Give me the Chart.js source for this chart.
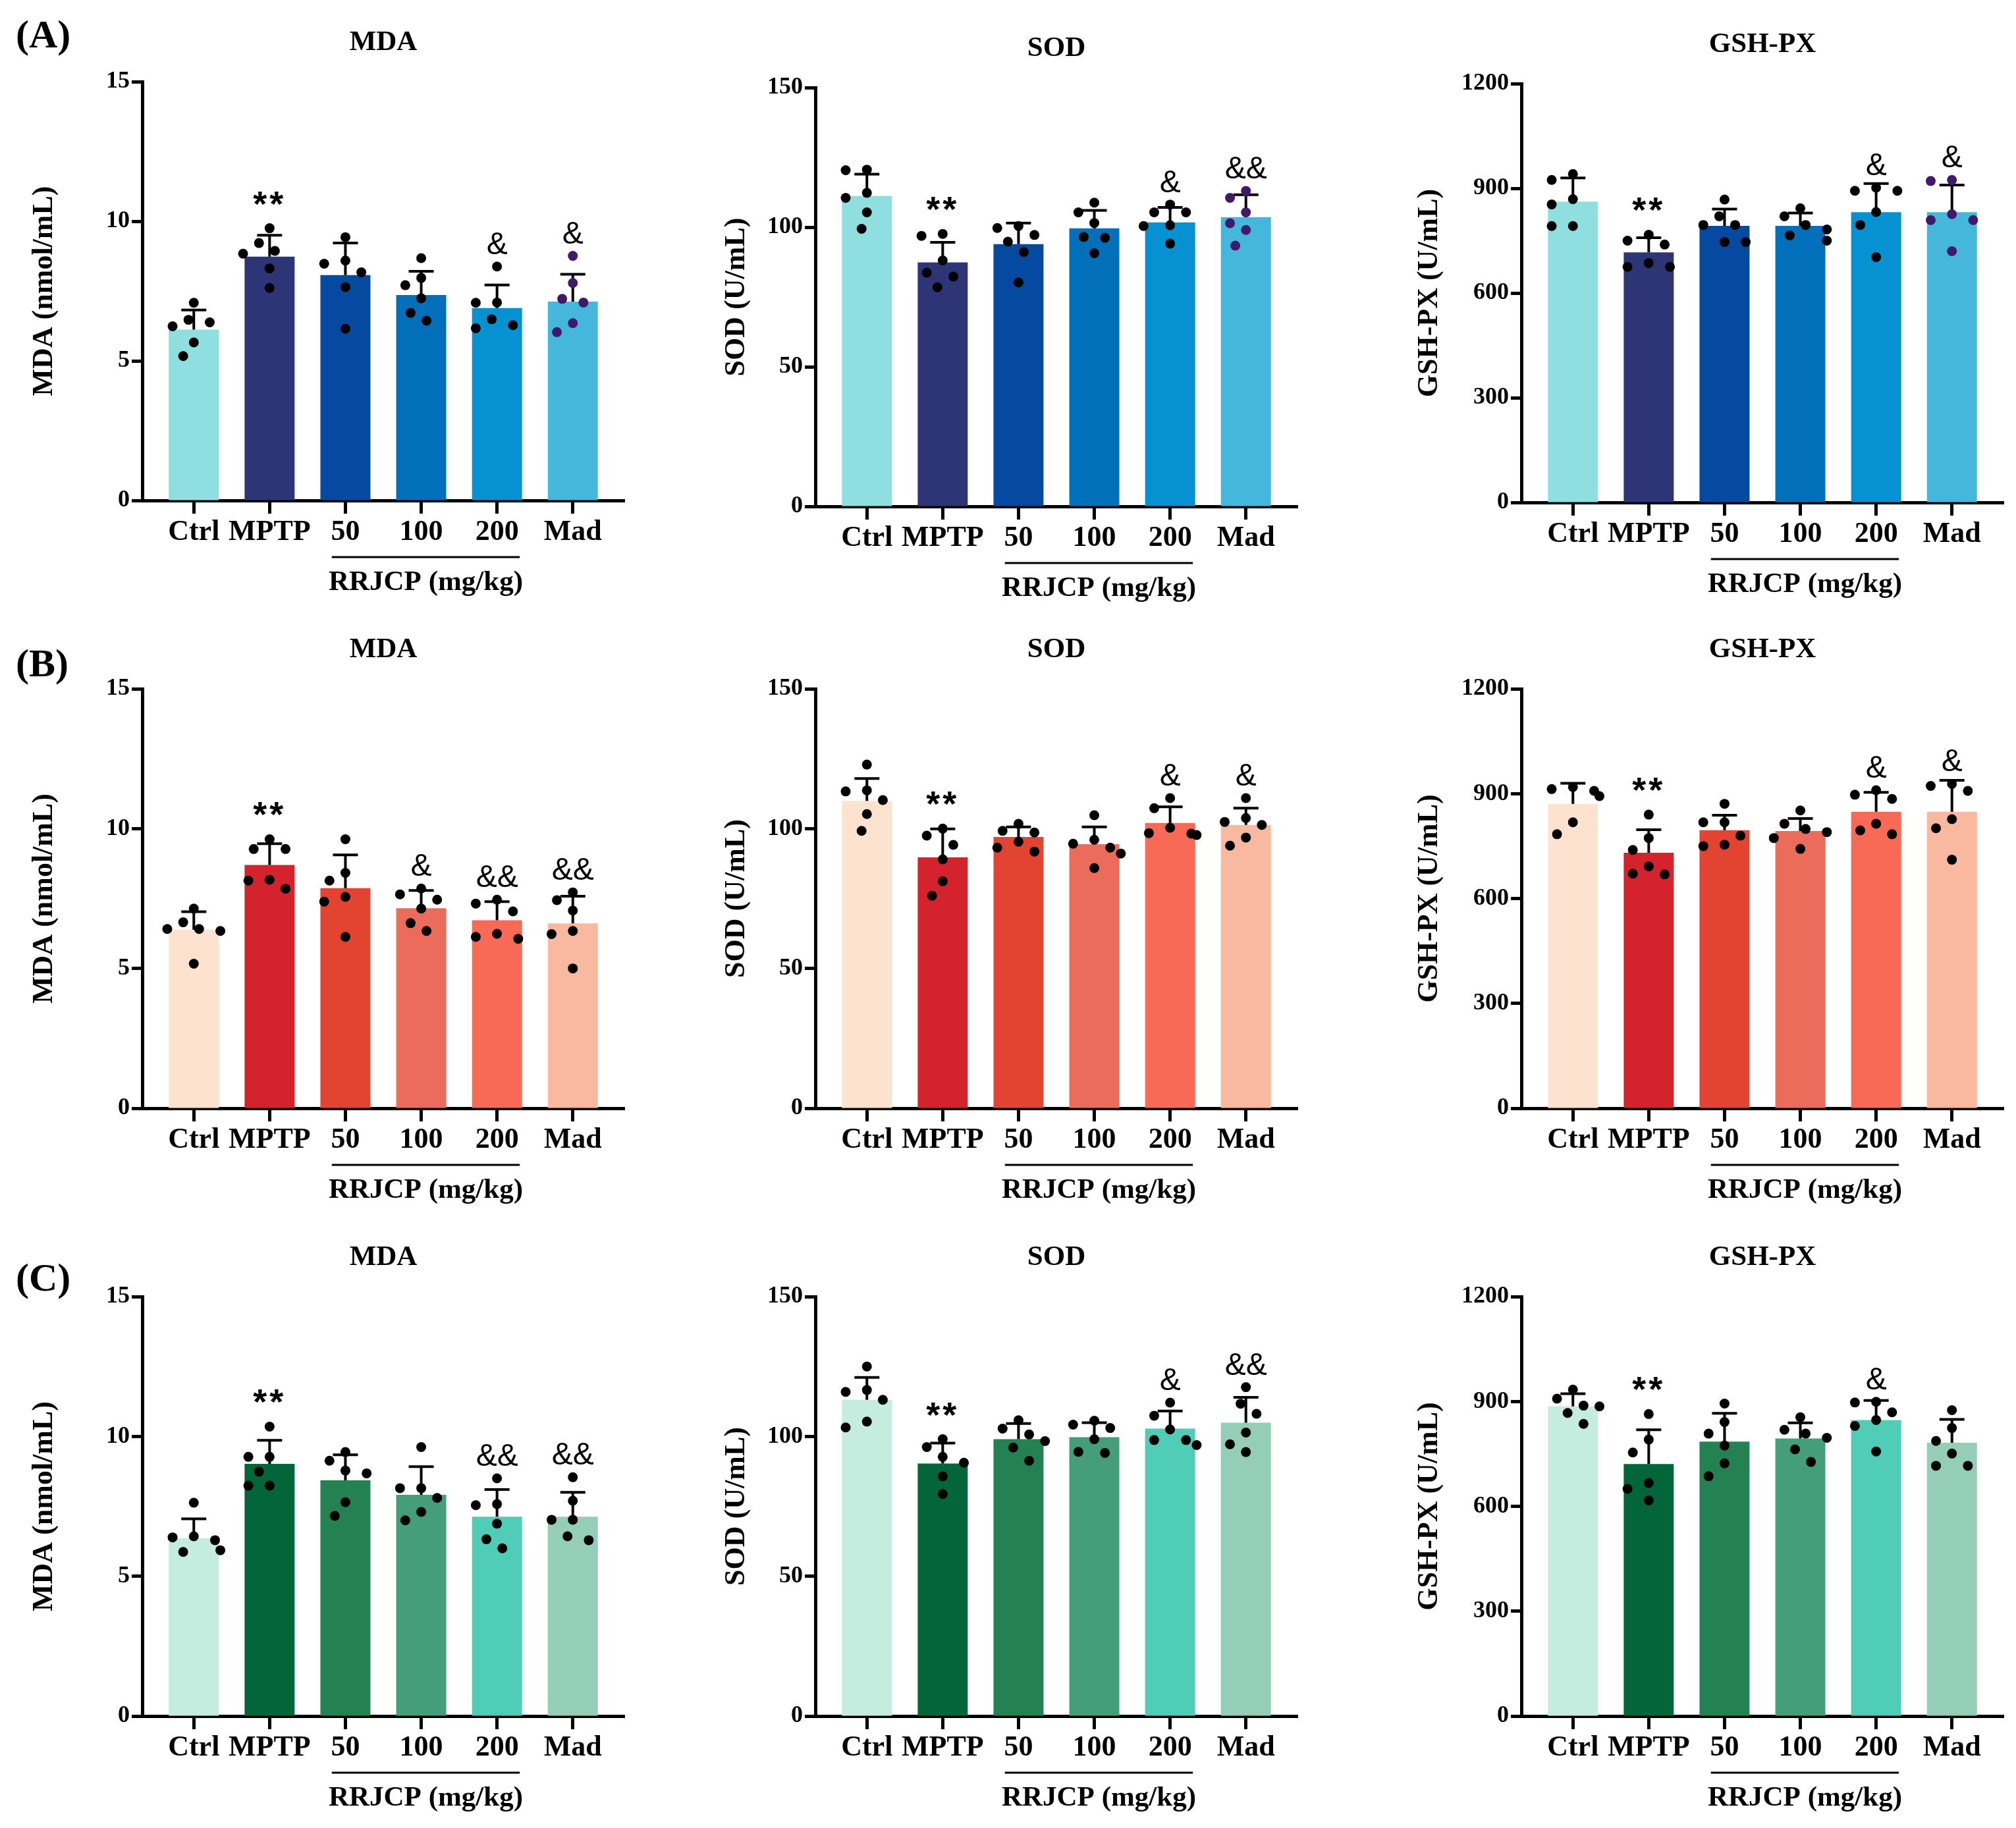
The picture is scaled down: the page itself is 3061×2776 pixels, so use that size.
<!DOCTYPE html>
<html>
<head>
<meta charset="utf-8">
<script src="https://cdn.jsdelivr.net/npm/chart.js@4.4.1/dist/chart.umd.min.js"></script>
<style>
  body { margin: 0; background: #fff; width: 3061px; height: 2776px; position: relative; overflow: hidden; }
  canvas { position: absolute; }
  .panel { position: absolute; left: 24px; font: bold 60px "Liberation Serif", serif; line-height: 60px; color: #000; }
</style>
</head>
<body>
<div class="panel" style="top:22px">(A)</div>
<div class="panel" style="top:977px">(B)</div>
<div class="panel" style="top:1910px">(C)</div>
<script>
const groups = ['Ctrl', 'MPTP', '50', '100', '200', 'Mad'];

// (A) blue row
const mdaA_mean = [6.12, 8.73, 8.07, 7.36, 6.89, 7.12];
const mdaA_sd = [0.70, 0.77, 1.15, 0.85, 0.83, 0.98];
const mdaA_pts = [
  [7.08, 6.38, 6.47, 6.24, 5.66, 5.17],
  [9.75, 9.22, 8.94, 8.84, 8.31, 7.61],
  [9.43, 8.59, 8.17, 8.48, 7.64, 6.15],
  [8.68, 7.97, 7.71, 7.24, 6.72, 6.44],
  [8.38, 7.09, 7.08, 6.49, 6.17, 6.28],
  [8.76, 7.79, 7.22, 7.09, 6.35, 6.03]
];
const mdaA_sig = ['', '**', '', '', '&', '&'];

const sodA_mean = [111.2, 87.4, 93.9, 99.6, 101.7, 103.6];
const sodA_sd = [7.8, 7.2, 7.6, 6.4, 5.4, 8.0];
const sodA_pts = [
  [120.6, 120.4, 110.5, 112.3, 105.3, 99.4],
  [96.9, 97.6, 88.1, 83.7, 82.3, 78.5],
  [100.4, 99.7, 97.2, 94.8, 91.1, 80.2],
  [108.8, 105.3, 101.5, 96.2, 96.5, 90.7],
  [108.1, 105.3, 105.3, 100.7, 100.4, 94.1],
  [113.0, 110.5, 105.3, 101.4, 99.0, 93.4]
];
const sodA_sig = ['', '**', '', '', '&', '&&'];

const gshA_mean = [861.6, 716.5, 792.4, 792.4, 831.5, 831.5];
const gshA_sd = [68, 42, 48, 37, 82, 78];
const gshA_pts = [
  [941, 924, 869, 854, 792, 792],
  [767, 750, 739, 686, 675, 675],
  [868, 820, 795, 795, 746, 746],
  [843, 820, 795, 782, 765, 750],
  [902, 893, 893, 832, 795, 703],
  [924, 921, 826, 809, 809, 720]
];
const gshA_sig = ['', '**', '', '', '&', '&'];

// (B) red row
const mdaB_mean = [6.38, 8.70, 7.87, 7.15, 6.72, 6.61];
const mdaB_sd = [0.65, 0.76, 1.19, 0.64, 0.67, 0.97];
const mdaB_pts = [
  [7.14, 6.65, 6.41, 6.41, 6.34, 5.17],
  [9.62, 9.27, 9.27, 8.17, 8.14, 7.85],
  [9.62, 8.42, 8.14, 7.56, 7.39, 6.13],
  [7.86, 7.65, 7.46, 7.14, 6.62, 6.34],
  [7.46, 7.32, 7.04, 6.24, 6.13, 6.06],
  [7.72, 7.44, 7.07, 6.34, 6.23, 5.0]
];
const mdaB_sig = ['', '**', '', '&', '&&', '&&'];

const sodB_mean = [109.9, 89.7, 97.0, 94.4, 102.0, 101.3];
const sodB_sd = [8.0, 10.2, 3.6, 6.2, 5.8, 6.0];
const sodB_pts = [
  [122.9, 113.7, 113.3, 110.2, 105.2, 99.2],
  [100, 97.5, 94.2, 89.0, 81.2, 76],
  [101.7, 99.2, 98.6, 95.3, 93.2, 91.8],
  [104.8, 96.0, 94.6, 93.2, 91.1, 85.9],
  [110.9, 107.3, 100.3, 98.4, 98.2, 97.7],
  [110.9, 103.8, 102.4, 101.3, 96.8, 93.9]
];
const sodB_sig = ['', '**', '', '', '&', '&'];

const gshB_mean = [870.6, 731, 795.3, 793, 848, 848];
const gshB_sd = [59, 66, 43, 36, 56, 90];
const gshB_pts = [
  [919, 913, 908, 893, 818, 784],
  [840, 773, 739, 692, 671, 669],
  [871, 818, 818, 780, 754, 750],
  [852, 814, 799, 790, 773, 742],
  [910, 897, 885, 814, 795, 784],
  [928, 922, 908, 827, 801, 711]
];
const gshB_sig = ['', '**', '', '', '&', '&'];

// (C) green row
const mdaC_mean = [6.36, 9.02, 8.43, 7.91, 7.13, 7.13];
const mdaC_sd = [0.69, 0.84, 0.91, 1.01, 0.97, 0.87];
const mdaC_pts = [
  [7.63, 6.43, 6.39, 6.29, 5.93, 5.87],
  [10.35, 9.27, 9.27, 8.74, 8.24, 8.24],
  [9.44, 9.13, 8.78, 8.68, 7.65, 7.16],
  [9.62, 8.15, 8.15, 7.8, 7.3, 7.0],
  [8.5, 7.58, 7.54, 6.88, 6.32, 6.0],
  [8.54, 7.7, 7.02, 7.02, 6.43, 6.29]
];
const mdaC_sig = ['', '**', '', '', '&&', '&&'];

const sodC_mean = [113.1, 90.3, 99.0, 99.7, 102.8, 104.9];
const sodC_sd = [8.0, 7.3, 5.6, 5.2, 6.3, 9.1];
const sodC_pts = [
  [125, 116.6, 115.9, 113.1, 105.3, 103.2],
  [99.0, 96.2, 92.7, 90.6, 85.7, 79.4],
  [105.8, 102.8, 100.7, 98.3, 96, 91.3],
  [105.6, 104.2, 103, 99.0, 94.5, 94.1],
  [112.1, 107.4, 102.5, 98.7, 98.7, 96.9],
  [117.6, 111.7, 108.1, 101.4, 97.2, 94.4]
];
const sodC_sig = ['', '**', '', '', '&', '&&'];

const gshC_mean = [886, 721, 785, 794, 846.7, 781.7];
const gshC_sd = [36, 98, 81, 45, 56, 67];
const gshC_pts = [
  [934, 908, 888, 886, 867, 836],
  [864, 791, 754, 667, 650, 617],
  [894, 841, 808, 774, 723, 686],
  [855, 819, 808, 796, 763, 727],
  [899, 897, 869, 847, 830, 757],
  [875, 824, 787, 751, 716, 716]
];
const gshC_sig = ['', '**', '', '', '&', ''];

const blues = ['#8fdfe1', '#2e3577', '#0649a0', '#026fbb', '#0691d3', '#45b7dd'];
const reds = ['#fde3cf', '#d5232e', '#e34432', '#ec6c5c', '#f96a56', '#f8b9a0'];
const greens = ['#c4ede0', '#03663a', '#248252', '#449e79', '#4fcdb7', '#94cdb8'];
const madDotA = '#3f1a6b';

const measures = [
  {title: 'MDA', yTitle: 'MDA (nmol/mL)', max: 15, step: 5},
  {title: 'SOD', yTitle: 'SOD (U/mL)', max: 150, step: 50},
  {title: 'GSH-PX', yTitle: 'GSH-PX (U/mL)', max: 1200, step: 300}
];

// layout of the 3x3 grid, in page pixels
const cols = [
  {left: 46, width: 922, yWidth: 170},
  {left: 1097, width: 895, yWidth: 141},
  {left: 2149, width: 904, yWidth: 161}
];
const rows = [
  {top: 0, height: 925, plotTop: [124, 133, 127], plotBottom: [760, 769, 763], colors: blues, madDot: madDotA},
  {top: 925, height: 925, plotTop: [1046, 1046, 1046], plotBottom: [1683, 1683, 1683], colors: reds, madDot: '#000'},
  {top: 1850, height: 926, plotTop: [1969, 1969, 1969], plotBottom: [2606, 2606, 2606], colors: greens, madDot: '#000'}
];
const SERIF = '"Liberation Serif", "Times New Roman", serif';
const SANS = '"Liberation Sans", Arial, sans-serif';

const panels = [
  [mdaA_mean, mdaA_sd, mdaA_pts, mdaA_sig], [sodA_mean, sodA_sd, sodA_pts, sodA_sig], [gshA_mean, gshA_sd, gshA_pts, gshA_sig],
  [mdaB_mean, mdaB_sd, mdaB_pts, mdaB_sig], [sodB_mean, sodB_sd, sodB_pts, sodB_sig], [gshB_mean, gshB_sd, gshB_pts, gshB_sig],
  [mdaC_mean, mdaC_sd, mdaC_pts, mdaC_sig], [sodC_mean, sodC_sd, sodC_pts, sodC_sig], [gshC_mean, gshC_sd, gshC_pts, gshC_sig]
];

// simple beeswarm: each dot takes the free slot nearest the bar centre
function swarm(vals, yMax) {
  const pxPerY = 636 / yMax;
  const pxPerX = 115;
  const step = 0.07;
  const minDist = 26;
  const order = vals.map((v, i) => i).sort((a, b) => vals[b] - vals[a]);
  const placed = [];
  const off = [];
  order.forEach(i => {
    for (let k = 0; k <= 10; k++) {
      const cand = k === 0 ? 0 : (k % 2 ? -1 : 1) * Math.ceil(k / 2) * step;
      const free = placed.every(p => {
        const dx = (p.o - cand) * pxPerX;
        const dy = (p.v - vals[i]) * pxPerY;
        return Math.hypot(dx, dy) >= minDist;
      });
      if (free || k === 10) {
        placed.push({o: cand, v: vals[i]});
        off[i] = cand;
        break;
      }
    }
  });
  return off;
}

function makeExtras(mean, sd, pts, sig, title) {
  return {
    id: 'extras',
    afterDatasetDraw(chart, args) {
      if (args.index !== 0) return;
      const {ctx, scales: {x, y}} = chart;
      ctx.save();
      ctx.strokeStyle = '#000';
      ctx.lineWidth = 4;
      mean.forEach((m, i) => {
        const px = x.getPixelForValue(i);
        const y0 = y.getPixelForValue(m);
        const y1 = y.getPixelForValue(m + sd[i]);
        ctx.beginPath();
        ctx.moveTo(px, y0);
        ctx.lineTo(px, y1);
        ctx.moveTo(px - 19, y1);
        ctx.lineTo(px + 19, y1);
        ctx.stroke();
      });
      ctx.restore();
    },
    afterDraw(chart) {
      const {ctx, chartArea: a, scales: {x, y}} = chart;
      ctx.save();
      ctx.fillStyle = '#000';
      ctx.textAlign = 'center';
      ctx.textBaseline = 'middle';
      ctx.font = 'bold 43px ' + SERIF;
      ctx.fillText(title, (a.left + a.right) / 2, a.top - 59);

      // RRJCP dose bracket
      const bx0 = x.getPixelForValue(1.82);
      const bx1 = x.getPixelForValue(4.3);
      ctx.strokeStyle = '#000';
      ctx.lineWidth = 3;
      ctx.beginPath();
      ctx.moveTo(bx0, a.bottom + 86);
      ctx.lineTo(bx1, a.bottom + 86);
      ctx.stroke();
      ctx.fillText('RRJCP (mg/kg)', (bx0 + bx1) / 2, a.bottom + 125);

      // significance marks
      ctx.textBaseline = 'alphabetic';
      sig.forEach((s, i) => {
        if (!s) return;
        const top = Math.min(y.getPixelForValue(mean[i] + sd[i]), y.getPixelForValue(Math.max(...pts[i])) - 7);
        if (s === '**') {
          ctx.font = 'bold 54px ' + SANS;
          ctx.letterSpacing = '4px';
        } else {
          ctx.font = '48px ' + SANS;
          ctx.letterSpacing = '0px';
        }
        ctx.fillText(s, x.getPixelForValue(i), top - 12);
      });
      ctx.restore();
    }
  };
}

panels.forEach((p, n) => {
  const r = Math.floor(n / 3), c = n % 3;
  const row = rows[r], col = cols[c], meas = measures[c];
  const [mean, sd, pts, sig] = p;

  const canvas = document.createElement('canvas');
  canvas.width = col.width;
  canvas.height = row.height;
  canvas.style.left = col.left + 'px';
  canvas.style.top = row.top + 'px';
  document.body.appendChild(canvas);

  const padTop = row.plotTop[c] - row.top;
  const xHeight = row.height - (row.plotBottom[c] - row.top);
  const rightPad = col.width - (col.yWidth + 732);

  const dots = [];
  const dotColors = [];
  pts.forEach((vals, i) => {
    const off = swarm(vals, meas.max);
    vals.forEach((v, j) => {
      dots.push({x: i + off[j], y: v});
      dotColors.push(i === 5 ? row.madDot : '#000');
    });
  });

  new Chart(canvas, {
    type: 'bar',
    data: {
      datasets: [
        {
          type: 'bar',
          data: mean.map((m, i) => ({x: i, y: m})),
          backgroundColor: row.colors,
          borderWidth: 0,
          barPercentage: 0.66,
          categoryPercentage: 1,
          order: 2
        },
        {
          type: 'scatter',
          data: dots,
          pointRadius: 7.5,
          pointBackgroundColor: dotColors,
          pointBorderWidth: 0,
          order: 1
        }
      ]
    },
    options: {
      responsive: false,
      animation: false,
      devicePixelRatio: 1,
      layout: {padding: {top: padTop, right: rightPad, left: 0, bottom: 0}},
      plugins: {
        legend: {display: false},
        tooltip: {enabled: false}
      },
      scales: {
        x: {
          type: 'linear',
          offset: false,
          min: -0.68,
          max: 5.68,
          afterBuildTicks: s => { s.ticks = groups.map((g, i) => ({value: i})); },
          afterFit: s => { s.height = xHeight; },
          grid: {offset: false, drawOnChartArea: false, color: '#000', tickWidth: 5, tickLength: 20},
          border: {color: '#000', width: 5},
          ticks: {
            callback: v => groups[v],
            font: {family: SERIF, size: 44, weight: 'bold'},
            color: '#000',
            padding: 2,
            maxRotation: 0,
            autoSkip: false
          }
        },
        y: {
          min: 0,
          max: meas.max,
          afterFit: s => { s.width = col.yWidth; },
          grid: {drawOnChartArea: false, color: '#000', tickWidth: 5, tickLength: 16},
          border: {color: '#000', width: 5},
          ticks: {
            stepSize: meas.step,
            callback: v => String(v),
            font: {family: SERIF, size: 36, weight: 'bold'},
            color: '#000',
            padding: 3
          },
          title: {
            display: true,
            text: meas.yTitle,
            font: {family: SERIF, size: 44, weight: 'bold', lineHeight: 1},
            color: '#000',
            padding: 0
          }
        }
      }
    },
    plugins: [makeExtras(mean, sd, pts, sig, meas.title)]
  });
});
</script>
</body>
</html>
